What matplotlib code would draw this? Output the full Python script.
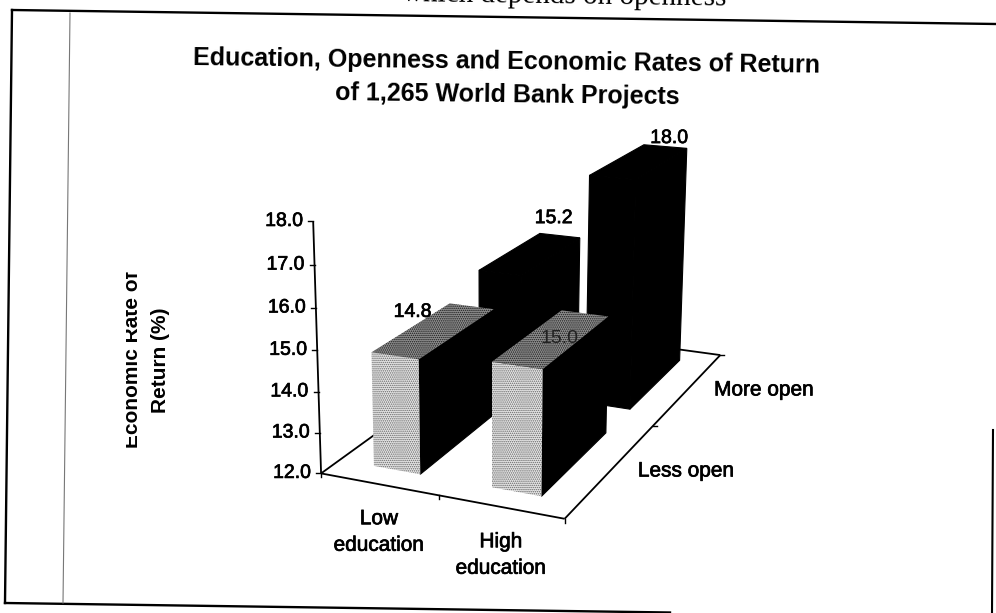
import matplotlib
matplotlib.use("Agg")
import matplotlib.pyplot as plt
from matplotlib.patches import Polygon, Rectangle
from matplotlib.patheffects import withStroke
import numpy as np

plt.rcParams["font.family"] = ["Liberation Sans", "DejaVu Sans"]
plt.rcParams["hatch.linewidth"] = 0.7

### Data

education = ["Low\neducation", "High\neducation"]
openness = ["Less open", "More open"]
less_open = [14.8, 15.0]
more_open = [15.2, 18.0]
y_ticks = [12.0, 13.0, 14.0, 15.0, 16.0, 17.0, 18.0]

### Camera for the 3D chart box: (education, openness, value) -> pixels

P = np.array([
    [94.855999, 159.694865, -3.33602, 334.969599],
    [5.211776, -24.46303, -40.071668, 915.721861],
    [-0.030116, 0.128971, -0.006786, 1.0],
])


def project(u, v, w):
    x, y, s = P @ np.array([u, v, w, 1.0])
    return x / s, y / s


### Plot

fig = plt.figure(figsize=(9.96, 6.13), dpi=100)
ax = fig.add_axes([0, 0, 1, 1])
ax.set_xlim(0, 996)
ax.set_ylim(613, 0)
ax.axis("off")

# scan makes the print look heavier
heavy = [withStroke(linewidth=0.5, foreground="black")]

# scanned page frame
ax.plot([12, 996], [10, 24], color="black", lw=1.7)
ax.plot([12, 5], [10, 603], color="black", lw=1.7)
ax.plot([5, 670], [603, 612.5], color="black", lw=1.7)
ax.plot([993, 992], [430, 613], color="black", lw=1.5)
ax.plot([70, 63], [13, 603], color="#777777", lw=0.8)
ax.text(564, 3, "which depends on openness", family="Liberation Serif", fontsize=21,
        ha="center", va="baseline", rotation=-0.8, rotation_mode="anchor")

# title
ax.text(507, 62, "Education, Openness and Economic Rates of Return", fontsize=18,
        fontweight="bold", ha="center", va="center", rotation=-0.7, rotation_mode="anchor")
ax.text(507, 95, "of 1,265 World Bank Projects", fontsize=18,
        fontweight="bold", ha="center", va="center", rotation=-0.7, rotation_mode="anchor")

# axis title, first line is cut off in the source
t = ax.text(132, 360, "Economic Rate of", fontsize=15, fontweight="bold",
            ha="center", va="center", rotation=90)
t.set_clip_path(Rectangle((126, 200), 40, 300, transform=ax.transData))
t.set_clip_on(True)
ax.text(160, 360, "Return (%)", fontsize=15, fontweight="bold",
        ha="center", va="center", rotation=90)


def line3d(p0, p1, lw=1.0):
    x0, y0 = project(*p0)
    x1, y1 = project(*p1)
    ax.plot([x0, x1], [y0, y1], color="black", lw=lw, solid_capstyle="butt", zorder=1)


# floor and value axis
line3d((0, 0, 12), (2, 0, 12), 1.3)
line3d((2, 0, 12), (2, 2, 12), 1.3)
line3d((2, 2, 12), (0, 2, 12), 1.3)
line3d((0, 2, 12), (0, 0, 12), 1.3)
line3d((0, 0, 12), (0, 0, y_ticks[-1]), 1.3)

for val in y_ticks:
    x, y = project(0, 0, val)
    ax.plot([x - 5, x], [y, y], color="black", lw=1.0, zorder=1)
    ax.text(x - 10, y, f"{val:.1f}", fontsize=14, ha="right", va="center", path_effects=heavy)
for i in range(3):
    x, y = project(i, 0, 12)
    ax.plot([x, x], [y, y + 4], color="black", lw=1.0, zorder=1)
for i in range(1, 3):
    x, y = project(2, i, 12)
    ax.plot([x, x + 4], [y, y], color="black", lw=1.0, zorder=1)


def bar(i, j, val, front, top, zorder):
    u0, u1 = i + 0.3, i + 0.7
    v0, v1 = j + 0.15, j + 0.85
    side = [project(u1, v0, 12), project(u1, v1, 12), project(u1, v1, val), project(u1, v0, val)]
    ax.add_patch(Polygon(side, fc="black", ec="black", lw=0.8, zorder=zorder))
    for face, corners in ((front, [(u0, v0, 12), (u1, v0, 12), (u1, v0, val), (u0, v0, val)]),
                          (top, [(u0, v0, val), (u1, v0, val), (u1, v1, val), (u0, v1, val)])):
        pts = [project(*c) for c in corners]
        if face is None:
            ax.add_patch(Polygon(pts, fc="black", ec="black", lw=0.8, zorder=zorder))
        else:
            ax.add_patch(Polygon(pts, fc=face[0], ec=face[1], hatch=face[2], lw=0, zorder=zorder))


light = ("#e6e6e6", "#666666", "........")
dark = ("#909090", "#1a1a1a", "........")
for i, val in enumerate(more_open):
    bar(i, 1, val, None, None, 2 + i)
for i, val in enumerate(less_open):
    bar(i, 0, val, light, dark, 4 + i)

# data labels
for i, val in enumerate(less_open):
    x, y = project(i + 0.3, 0.85, val)
    dx, dy = (-37, 9) if i == 0 else (-2, 28)
    ax.text(x + dx, y + dy, f"{val:.1f}", fontsize=14, ha="center", va="center",
            color="black" if i == 0 else "#222222", zorder=8,
            path_effects=heavy if i == 0 else None)
for i, val in enumerate(more_open):
    x, y = project(i + 0.5, 1.85, val)
    ax.text(x + (-6 if i == 0 else 4), y - 17 if i == 0 else y - 8, f"{val:.1f}", fontsize=14,
            ha="center", va="center", zorder=8, path_effects=heavy)

# category labels
for label, x, y in zip(education, [379, 501], [532, 555]):
    ax.text(x, y, label, fontsize=15, ha="center", va="center", linespacing=1.5, path_effects=heavy)
for label, x, y in zip(openness, [686, 764], [471, 390]):
    ax.text(x, y, label, fontsize=15, ha="center", va="center", path_effects=heavy)

fig.savefig("out.png", dpi=100)
